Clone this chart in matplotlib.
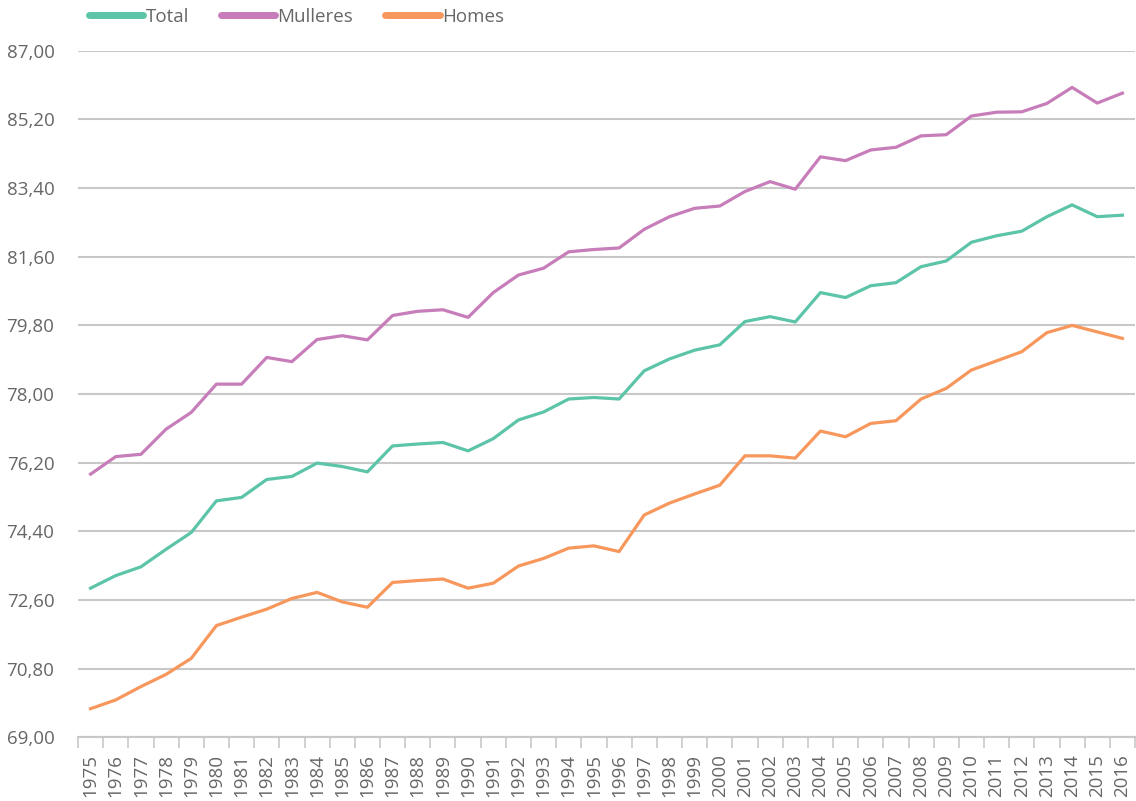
import matplotlib
matplotlib.use("Agg")
from matplotlib import pyplot as plt
from matplotlib.ticker import FixedLocator, FuncFormatter

plt.rcParams['font.family'] = ['Open Sans', 'DejaVu Sans']

years = list(range(1975, 2017))

total = [72.91, 73.24, 73.47, 73.93, 74.37, 75.20, 75.29, 75.76, 75.84, 76.19,
         76.10, 75.96, 76.64, 76.69, 76.73, 76.51, 76.83, 77.32, 77.53, 77.87,
         77.91, 77.87, 78.61, 78.92, 79.15, 79.29, 79.90, 80.03, 79.89, 80.66,
         80.53, 80.84, 80.92, 81.34, 81.49, 81.98, 82.15, 82.27, 82.65, 82.96,
         82.65, 82.69]

mulleres = [75.90, 76.36, 76.42, 77.08, 77.52, 78.26, 78.26, 78.96, 78.85, 79.43,
            79.53, 79.42, 80.06, 80.17, 80.21, 80.01, 80.66, 81.12, 81.30, 81.73,
            81.79, 81.83, 82.32, 82.65, 82.87, 82.93, 83.31, 83.57, 83.37, 84.22,
            84.12, 84.40, 84.47, 84.77, 84.80, 85.29, 85.39, 85.40, 85.62, 86.04,
            85.63, 85.89]

homes = [69.75, 69.98, 70.33, 70.65, 71.07, 71.93, 72.15, 72.36, 72.64, 72.80,
         72.55, 72.41, 73.06, 73.11, 73.15, 72.91, 73.04, 73.49, 73.69, 73.96,
         74.02, 73.87, 74.83, 75.14, 75.38, 75.61, 76.38, 76.38, 76.32, 77.03,
         76.88, 77.23, 77.30, 77.87, 78.15, 78.63, 78.87, 79.11, 79.61, 79.80,
         79.63, 79.46]

y_ticks = [69.0, 70.8, 72.6, 74.4, 76.2, 78.0, 79.8, 81.6, 83.4, 85.2, 87.0]

W, H = 1136, 801
fig = plt.figure(figsize=(W / 100, H / 100), dpi=100)
ax = fig.add_axes([78 / W, 1 - 737.3 / H, (1135 - 78) / W, (737.3 - 50.8) / H])

x = list(range(len(years)))
lt, = ax.plot(x, total, color='#5CC4A8', lw=2.3, label='Total')
lm, = ax.plot(x, mulleres, color='#C77DB9', lw=2.3, label='Mulleres')
lh, = ax.plot(x, homes, color='#F7975C', lw=2.3, label='Homes')

ax.set_xlim(-0.5, len(years) - 0.5)
ax.set_ylim(69, 87)

# grid
ax.set_yticks(y_ticks)
ax.yaxis.set_major_formatter(FuncFormatter(lambda v, p: f"{v:.2f}".replace('.', ',')))
ax.grid(axis='y', color='#C8C8C8', lw=1.5)
ax.set_axisbelow(True)

# x: labels at centers, tick marks between categories
ax.set_xticks(x)
ax.set_xticklabels([str(y) for y in years], rotation=90)
ax.xaxis.set_minor_locator(FixedLocator([i - 0.5 for i in range(len(years) + 1)]))
ax.tick_params(axis='x', which='major', length=0, pad=12, labelsize=13.5, labelcolor='#666666')
ax.tick_params(axis='x', which='minor', length=8, width=1.2, color='#C8C8C8')
ax.tick_params(axis='y', length=0, pad=17, labelsize=13.5, labelcolor='#666666')

for s in ['top', 'right', 'left']:
    ax.spines[s].set_visible(False)
ax.spines['bottom'].set_color('#C8C8C8')
ax.spines['bottom'].set_linewidth(1.5)

leg = fig.legend(handles=[lt, lm, lh], loc='center left', bbox_to_anchor=(89 / W, 1 - 17 / H),
                 ncol=3, frameon=False, fontsize=13.5, handlelength=2.9, handletextpad=0.12,
                 columnspacing=1.7, borderpad=0, borderaxespad=0)
for line in leg.get_lines():
    line.set_linewidth(5)
    line.set_solid_capstyle('round')
for t in leg.get_texts():
    t.set_color('#666666')

fig.savefig('out.png', dpi=100)
